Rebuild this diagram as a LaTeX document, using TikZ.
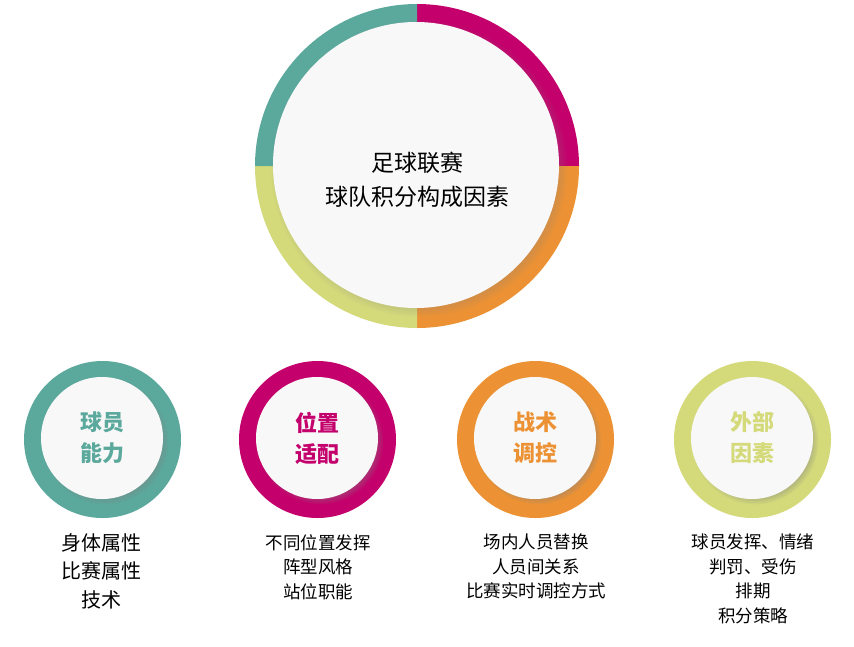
\documentclass[tikz,border=0pt]{standalone}
\usepackage{fontspec}
\setmainfont{Noto Sans CJK SC}
\usetikzlibrary{shadows}
\definecolor{ballteal}{HTML}{5BA89C}
\definecolor{ballred}{HTML}{C4006C}
\definecolor{ballorange}{HTML}{EC9234}
\definecolor{ballgreen}{HTML}{D4DA7A}
\definecolor{ballface}{HTML}{F8F8F8}

\begin{document}
\begin{tikzpicture}[
    x=1pt, y=-1pt,
    face/.style={circle, fill=ballface, inner sep=0pt, align=center,
        circular drop shadow={shadow xshift=3pt, shadow yshift=-3pt,
        shadow scale=1.04, opacity=0.5}},
    big face/.style={face, minimum size=286pt},
    title text/.style={align=center, inner sep=0pt,
        font=\fontsize{23}{34}\selectfont},
    rim/.style={circle, inner sep=0pt, minimum size=157pt},
    small face/.style={face, minimum size=122pt,
        font=\fontsize{22}{31}\bfseries\selectfont},
    notes/.style={anchor=north, align=center, inner sep=0pt,
        font=\fontsize{17.5}{24.5}\selectfont}
    ]
    \useasboundingbox (0,0) rectangle (854,646);
    % big ring
    \coordinate (hub) at (417,166);
    \fill[ballred] (hub) -- ++(-90:162) arc[start angle=-90, end angle=0, radius=162] -- cycle;
    \fill[ballorange] (hub) -- ++(0:162) arc[start angle=0, end angle=90, radius=162] -- cycle;
    \fill[ballgreen] (hub) -- ++(90:162) arc[start angle=90, end angle=180, radius=162] -- cycle;
    \fill[ballteal] (hub) -- ++(180:162) arc[start angle=180, end angle=270, radius=162] -- cycle;
    \node[big face] (title) at (416,165) {};
    \node[title text] (titletext) at (417,180) {足球联赛\\球队积分构成因素};
    % small rings
    \node[rim, fill=ballteal] (rim1) at (102.5,439.5) {};
    \node[small face, text=ballteal] (player) at (102,438) {球员\\能力};
    \node[rim, fill=ballred] (rim2) at (317.5,439.5) {};
    \node[small face, text=ballred] (position) at (317,438) {位置\\适配};
    \node[rim, fill=ballorange] (rim3) at (535.5,439.5) {};
    \node[small face, text=ballorange] (tactics) at (535,438) {战术\\调控};
    \node[rim, fill=ballgreen] (rim4) at (752.5,439.5) {};
    \node[small face, text=ballgreen] (outside) at (752,438) {外部\\因素};
    % notes under the rings
    \node[notes, font=\fontsize{20}{28.5}\selectfont] (playernotes) at (101,533)
        {身体属性\\比赛属性\\技术};
    \node[notes] (positionnotes) at (318,534)
        {不同位置发挥\\阵型风格\\站位职能};
    \node[notes] (tacticsnotes) at (536,534)
        {场内人员替换\\人员间关系\\比赛实时调控方式};
    \node[notes] (outsidenotes) at (753,534)
        {球员发挥、情绪\\判罚、受伤\\排期\\积分策略};
\end{tikzpicture}
\end{document}
